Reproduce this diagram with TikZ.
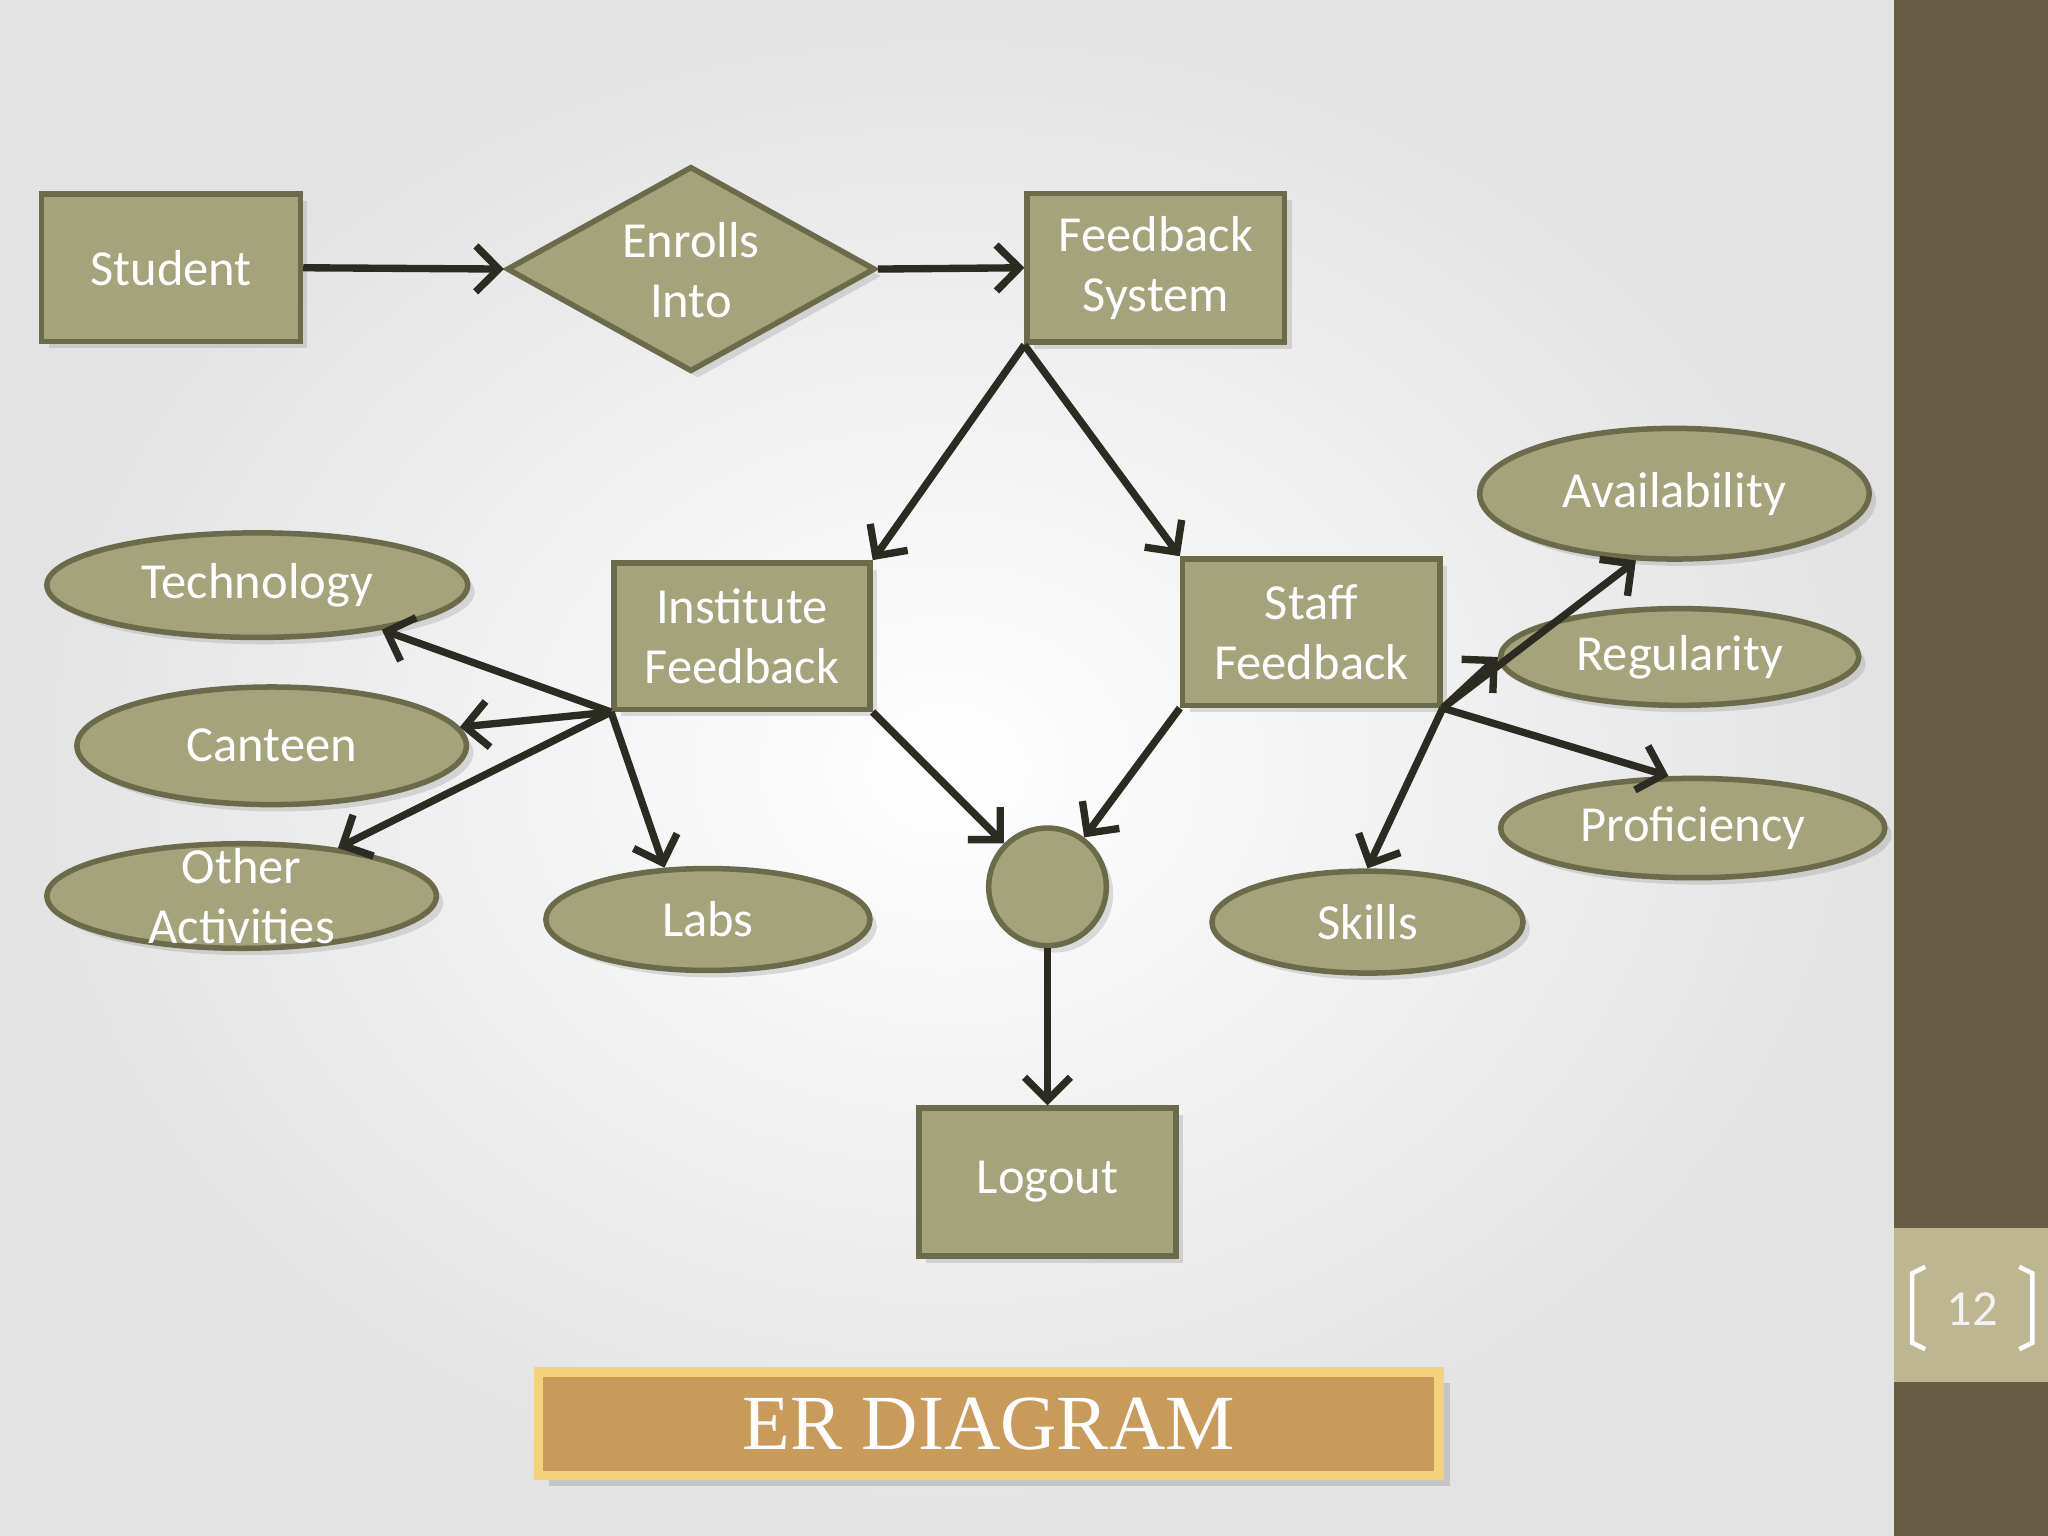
\documentclass[tikz,border=0pt]{standalone}
\usepackage{fontspec}
\setmainfont{Carlito}
\newfontfamily\serifb{Liberation Serif}
\usetikzlibrary{shapes.geometric,arrows.meta,shadows}
\definecolor{olv}{HTML}{A4A37B}
\definecolor{olvd}{HTML}{6B6A4A}
\definecolor{bar}{HTML}{675D45}
\definecolor{barl}{HTML}{BDB690}
\definecolor{arr}{HTML}{2B2B22}
\definecolor{ban}{HTML}{C89B5A}
\definecolor{banb}{HTML}{F3D37E}
\tikzset{
  x=0.01cm,y=-0.01cm,
  lbl/.style={text=white,font=\fontsize{11}{13}\selectfont,align=center},
  ent/.style={draw=olvd,line width=1.2pt,fill=olv,lbl,inner sep=0,drop shadow={opacity=0.25,shadow xshift=1.5pt,shadow yshift=-1.5pt}},
  att/.style={ent,ellipse},
  con/.style={draw=arr,line width=1.6pt,-{Straight Barb[length=5pt,width=10pt,line width=1.6pt]}}
}
\begin{document}
\begin{tikzpicture}
\useasboundingbox (0,0) rectangle (1568,1176);
\shade[inner color=white,outer color=gray!22] (0,0) rectangle (1450,1176);
\fill[bar] (1450,0) rectangle (1568,1176);
\fill[barl] (1450,940) rectangle (1568,1058);
\draw[white,line width=1pt] (1474,970) -- (1464,975) -- (1464,1028) -- (1474,1033);
\draw[white,line width=1pt] (1546,970) -- (1556,975) -- (1556,1028) -- (1546,1033);
\node[text=white!95!black,font=\fontsize{11}{13}\selectfont] (pg) at (1510,1002) {12};

\node[ent,minimum width=1.98cm,minimum height=1.13cm] (stu) at (131,205) {Student};
\node[ent,diamond,minimum width=2.82cm,minimum height=1.57cm] (enr) at (529,206) {};
\node[lbl] (enrt) at (529,207) {Enrolls\\Into};
\node[ent,minimum width=1.97cm,minimum height=1.14cm] (fs) at (885,205) {Feedback\\System};
\node[ent,minimum width=1.96cm,minimum height=1.12cm] (ifb) at (568,487) {Institute\\Feedback};
\node[ent,minimum width=1.97cm,minimum height=1.12cm] (sf) at (1004,484) {Staff\\Feedback};
\node[att,minimum width=3.22cm,minimum height=0.8cm] (tech) at (197,448) {Technology};
\node[att,minimum width=2.98cm,minimum height=0.9cm] (can) at (208,571) {Canteen};
\node[att,minimum width=2.98cm,minimum height=0.8cm] (oth) at (185,686) {};
\node[lbl] (otht) at (185,686) {Other\\Activities};
\node[att,minimum width=2.48cm,minimum height=0.78cm] (labs) at (542,704) {Labs};
\node[ent,circle,minimum size=0.9cm] (rel) at (802,679) {};
\node[ent,minimum width=1.97cm,minimum height=1.13cm] (log) at (802,905) {Logout};
\node[att,minimum width=2.98cm,minimum height=1.0cm] (ava) at (1282,378) {Availability};
\node[att,minimum width=2.74cm,minimum height=0.74cm] (reg) at (1286,503) {Regularity};
\node[att,minimum width=2.94cm,minimum height=0.76cm] (pro) at (1296,634) {Proficiency};
\node[att,minimum width=2.38cm,minimum height=0.78cm] (ski) at (1047,706) {Skills};
\node[draw=banb,line width=2pt,fill=ban,minimum width=6.89cm,minimum height=0.79cm,text=white,font=\serifb\fontsize{17}{20}\selectfont,drop shadow={opacity=0.3}] (ban) at (757,1090) {ER DIAGRAM};

\draw[con] (stu.east) -- (enr.west);
\draw[con] (enr.east) -- (fs.west);
\draw[con] (fs.south west) -- (ifb.north east);
\draw[con] (fs.south west) -- (sf.north west);
\draw[con] (ifb.south west) -- (tech);
\draw[con] (ifb.south west) -- (can);
\draw[con] (ifb.south west) -- (oth);
\draw[con] (ifb.south west) -- (labs.130);
\draw[con] (ifb.south east) -- (rel);
\draw[con] (sf.south west) -- (rel);
\draw[con] (rel) -- (log);
\draw[con] (sf.south east) -- (ava.240);
\draw[con] (sf.south east) -- (reg.west);
\draw[con] (sf.south east) -- (pro.115);
\draw[con] (sf.south east) -- (ski.north);
\end{tikzpicture}
\end{document}
